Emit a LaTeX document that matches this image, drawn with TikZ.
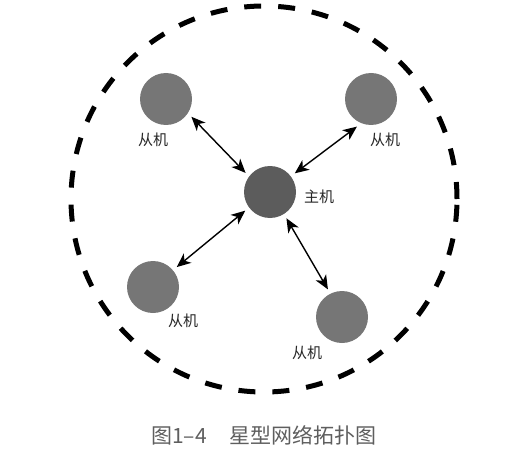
\documentclass[tikz,border=0pt]{standalone}
\usepackage{fontspec}
\newfontfamily\cjk{Noto Sans CJK SC}
\usetikzlibrary{arrows.meta}
\definecolor{maitre}{HTML}{5C5C5C}
\definecolor{esclave}{HTML}{767676}
\definecolor{legende}{HTML}{5E5E5E}
\tikzset{
  hote/.style={circle,fill=esclave,inner sep=0pt,minimum size=52pt,outer sep=5pt},
  nom/.style={font=\cjk\fontsize{15}{17}\selectfont,text=black!85},
  lien/.style={{Stealth[length=14pt,width=12pt,inset=4pt]}-{Stealth[length=14pt,width=12pt,inset=4pt]},line width=1.4pt}
}
\begin{document}
\begin{tikzpicture}[x=1pt,y=-1pt]
\useasboundingbox (0,0) rectangle (505,457);

% Cercle en tirets
\draw[line width=5pt,dash pattern=on 17pt off 17pt] (264,199) circle (193pt);

% Hotes
\node[hote,fill=maitre] (m) at (270,192) {};
\node[hote] (hg) at (166,99) {};
\node[hote] (hd) at (371,99) {};
\node[hote] (bg) at (153,287) {};
\node[hote] (bd) at (342,317) {};

\node[nom] (lm) at (319,197) {主机};
\node[nom] (lhg) at (153,140) {从机};
\node[nom] (lhd) at (385,140) {从机};
\node[nom] (lbg) at (183,321) {从机};
\node[nom] (lbd) at (307,353) {从机};

% Liens
\draw[lien] (hg.325) -- (m.142);
\draw[lien] (hd.243) -- (m.37);
\draw[lien] (bg.40) -- (m.217);
\draw[lien] (bd.117) -- (m.302);

% Legende
\node[font=\cjk\fontsize{21}{24}\selectfont,text=legende] (titre) at (264,435) {图1–4\hspace{1.1em}星型网络拓扑图};

\end{tikzpicture}
\end{document}
